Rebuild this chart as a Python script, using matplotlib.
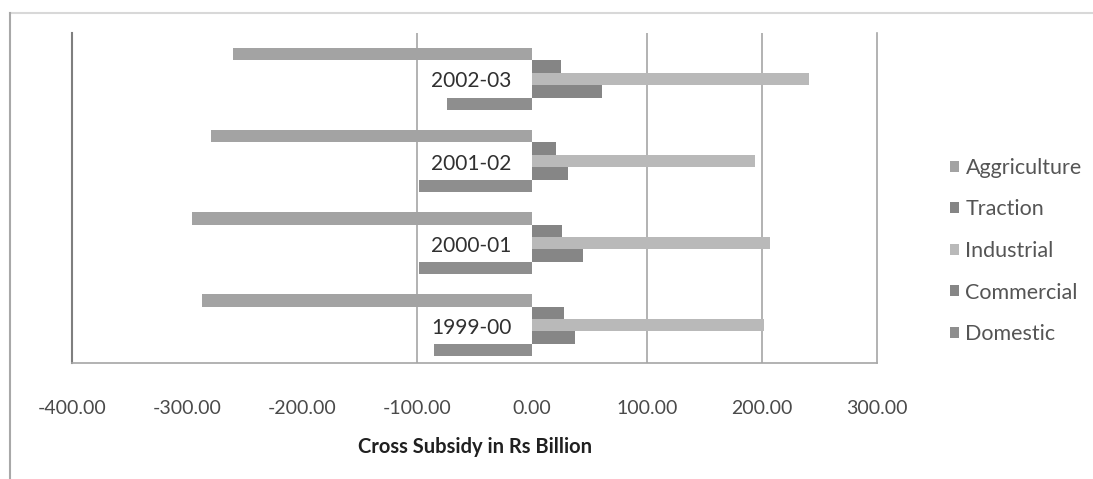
import numpy as np
import matplotlib.pyplot as plt
from matplotlib.lines import Line2D

# Cross subsidy by consumer category, Rs billion
years = ["1999-00", "2000-01", "2001-02", "2002-03"]
domestic = [-85, -98, -98, -74]
commercial = [37, 44, 31, 61]
industrial = [202, 207, 194, 241]
traction = [28, 26, 21, 25]
agriculture = [-287, -296, -279, -260]

xticks = [-400, -300, -200, -100, 0, 100, 200, 300]
grid_at = [-100, 100, 200]

series = [
    ("Domestic", domestic, "#8e8e8e"),
    ("Commercial", commercial, "#868686"),
    ("Industrial", industrial, "#b9b9b9"),
    ("Traction", traction, "#858585"),
    ("Aggriculture", agriculture, "#a3a3a3"),
]

plt.rcParams['font.family'] = ['Lato', 'DejaVu Sans']

fig = plt.figure(figsize=(10.93, 4.79), dpi=100)
ax = fig.add_axes([72 / 1093, 116 / 479, 805 / 1093, 330 / 479])

y = np.arange(len(years))
h = 0.151
handles = []
for i, (name, vals, col) in enumerate(series):
    b = ax.barh(y + (i - 2) * h, vals, height=h, color=col, label=name, zorder=3)
    handles.append(b)

# grid lines only where they show through
ax.vlines(grid_at, -0.5, 3.6, colors="#a6a6a6", linewidth=1.2, zorder=1)

ax.set_xlim(-400, 300)
ax.set_ylim(-0.46, 3.56)
ax.set_xticks(xticks)
ax.set_xticklabels([f"{v:.2f}" for v in xticks], color="#4a4a4a", fontsize=14)
ax.tick_params(axis="x", length=0, pad=27)
ax.set_yticks([])

for lbl, yy in zip(years, y):
    ax.text(-18, yy - 0.03, lbl, ha="right", va="center", fontsize=15,
            color="#303030", zorder=4)

ax.set_xlabel("Cross Subsidy in Rs Billion", fontsize=14.5, fontweight="bold",
              color="#202020", labelpad=14)

ax.spines["top"].set_visible(False)
ax.spines["left"].set_color("#7f7f7f")
ax.spines["left"].set_linewidth(1.5)
ax.spines["bottom"].set_color("#a6a6a6")
ax.spines["bottom"].set_linewidth(1.2)
ax.spines["right"].set_color("#a6a6a6")
ax.spines["right"].set_linewidth(1.2)

leg = fig.legend(handles[::-1], [s[0] for s in series][::-1],
                 loc="center left", bbox_to_anchor=(931 / 1093, 1 - 251 / 479),
                 frameon=False, fontsize=15.5, handlelength=0.4, handleheight=0.4,
                 handletextpad=0.3, labelspacing=1.0, labelcolor="#555555")

# outer chart border (top and left edges)
fig.add_artist(Line2D([10 / 1093, 1092 / 1093], [1 - 13 / 479, 1 - 13 / 479],
                      color="#d8d8d8", linewidth=1.5))
fig.add_artist(Line2D([10 / 1093, 10 / 1093], [0, 1 - 13 / 479],
                      color="#a8a8a8", linewidth=1.5))

fig.savefig("out.png", dpi=100)
